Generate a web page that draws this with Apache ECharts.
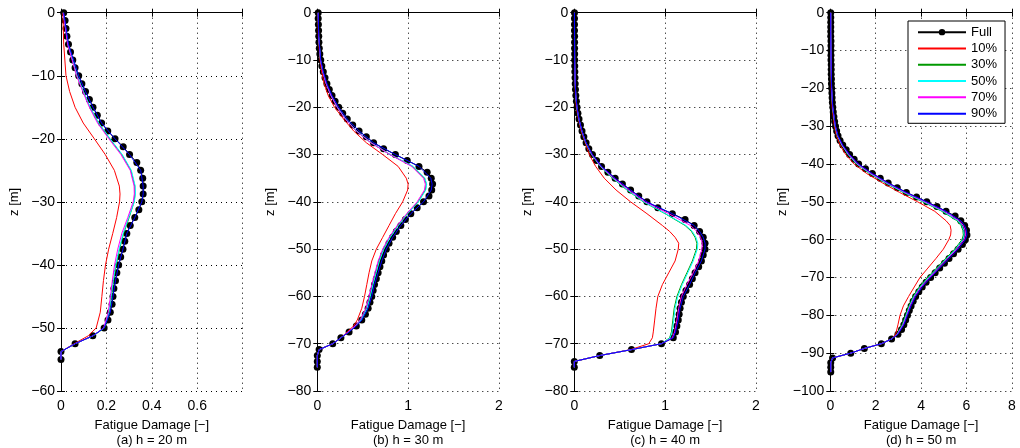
<!DOCTYPE html>
<html>
<head>
<meta charset="utf-8">
<title>Fatigue damage profiles</title>
<script src="https://cdn.jsdelivr.net/npm/echarts@6/dist/echarts.min.js"></script>
<style>
  html, body { margin: 0; padding: 0; background: #fff; }
  #chart { width: 1020px; height: 448px; }
</style>
</head>
<body>
<div id="chart"></div>
<script>
// ---- (a) h = 20 m ----
var zFullA = [0,-1.25,-2.5,-3.75,-5,-6.25,-7.5,-8.75,-10,-11.25,-12.5,-13.75,-15,-16.25,-17.5,-18.75,-20,-21.25,-22.5,-23.75,-25,-26.25,-27.5,-28.75,-30,-31.25,-32.5,-33.75,-35,-36.25,-37.5,-38.75,-40,-41.25,-42.5,-43.75,-45,-46.25,-47.5,-48.75,-50,-51.25,-52.5,-53.75,-55];
var fullA = [0.012,0.018,0.022,0.026,0.033,0.042,0.052,0.062,0.078,0.092,0.108,0.125,0.141,0.16,0.179,0.206,0.238,0.274,0.302,0.334,0.351,0.36,0.362,0.362,0.356,0.343,0.325,0.305,0.29,0.281,0.273,0.263,0.254,0.246,0.24,0.233,0.229,0.225,0.217,0.207,0.19,0.14,0.062,0,0];
var zLineA = [0,-5,-10,-12.5,-15,-17.5,-20,-22.5,-25,-27.5,-28.75,-30,-32.5,-35,-37.5,-40,-42.5,-45,-47.5,-50,-51.25,-52.5,-53.75,-55];
var p10A = [0.008,0.012,0.022,0.038,0.062,0.098,0.147,0.195,0.235,0.257,0.26,0.258,0.245,0.228,0.21,0.196,0.187,0.18,0.173,0.155,0.12,0.058,0,0];
var p30A = [0.01,0.03,0.07,0.098,0.128,0.165,0.215,0.268,0.308,0.325,0.326,0.322,0.3,0.276,0.258,0.243,0.232,0.223,0.213,0.192,0.142,0.062,0,0];
var p50A = [0.01,0.031,0.071,0.099,0.129,0.166,0.217,0.27,0.31,0.327,0.328,0.323,0.298,0.274,0.256,0.241,0.23,0.221,0.211,0.19,0.141,0.062,0,0];
var p70A = [0.01,0.029,0.069,0.096,0.125,0.161,0.211,0.264,0.305,0.322,0.323,0.318,0.294,0.268,0.25,0.236,0.226,0.218,0.208,0.188,0.14,0.062,0,0];
var p90A = [0.012,0.033,0.078,0.108,0.141,0.179,0.238,0.302,0.351,0.362,0.362,0.356,0.325,0.29,0.273,0.254,0.24,0.229,0.217,0.19,0.14,0.062,0,0];

// ---- (b) h = 30 m ----
var zFullB = [0,-1.25,-2.5,-3.75,-5,-6.25,-7.5,-8.75,-10,-11.25,-12.5,-13.75,-15,-16.25,-17.5,-18.75,-20,-21.25,-22.5,-23.75,-25,-26.25,-27.5,-28.75,-30,-31.25,-32.5,-33.75,-35,-36.25,-37.5,-38.75,-40,-41.25,-42.5,-43.75,-45,-46.25,-47.5,-48.75,-50,-51.25,-52.5,-53.75,-55,-56.25,-57.5,-58.75,-60,-61.25,-62.5,-63.75,-65,-66.25,-67.5,-68.75,-70,-71.25,-72.5,-73.75,-75];
var fullB = [0.01,0.01,0.012,0.014,0.016,0.018,0.022,0.028,0.038,0.05,0.066,0.085,0.106,0.132,0.162,0.196,0.236,0.28,0.33,0.39,0.46,0.54,0.62,0.73,0.86,0.99,1.12,1.21,1.255,1.27,1.26,1.23,1.17,1.1,1.03,0.97,0.92,0.87,0.83,0.79,0.76,0.73,0.71,0.69,0.67,0.65,0.63,0.615,0.6,0.58,0.56,0.53,0.49,0.43,0.35,0.26,0.17,0.02,0,0,0];
var zLineB = [0,-5,-10,-12.5,-15,-17.5,-20,-22.5,-25,-27.5,-30,-32.5,-35,-36.25,-37.5,-40,-42.5,-45,-47.5,-50,-52.5,-55,-57.5,-60,-62.5,-65,-66.25,-67.5,-68.75,-70,-71.25,-72.5,-75];
var p10B = [0.008,0.012,0.03,0.048,0.075,0.12,0.19,0.29,0.4,0.54,0.72,0.89,0.98,1.0,0.995,0.94,0.86,0.79,0.72,0.65,0.6,0.57,0.545,0.52,0.49,0.44,0.4,0.33,0.26,0.17,0.02,0,0];
var p30B = [0.01,0.015,0.035,0.06,0.098,0.15,0.22,0.31,0.43,0.59,0.8,1.05,1.18,1.2,1.19,1.11,0.99,0.89,0.8,0.73,0.68,0.645,0.61,0.58,0.545,0.48,0.42,0.345,0.26,0.17,0.02,0,0];
var p50B = [0.01,0.015,0.035,0.061,0.099,0.152,0.222,0.313,0.434,0.595,0.805,1.055,1.185,1.205,1.195,1.115,0.995,0.893,0.803,0.733,0.684,0.648,0.613,0.583,0.548,0.482,0.422,0.346,0.26,0.17,0.02,0,0];
var p70B = [0.01,0.015,0.035,0.06,0.097,0.149,0.219,0.309,0.428,0.59,0.8,1.04,1.17,1.19,1.18,1.1,0.985,0.88,0.79,0.72,0.67,0.635,0.6,0.57,0.535,0.47,0.415,0.34,0.26,0.17,0.02,0,0];
var p90B = [0.01,0.016,0.038,0.066,0.106,0.162,0.236,0.33,0.46,0.62,0.86,1.12,1.25,1.265,1.255,1.17,1.03,0.92,0.83,0.76,0.71,0.67,0.63,0.6,0.56,0.49,0.43,0.35,0.26,0.17,0.02,0,0];

// ---- (c) h = 40 m ----
var zFullC = [0,-1.25,-2.5,-3.75,-5,-6.25,-7.5,-8.75,-10,-11.25,-12.5,-13.75,-15,-16.25,-17.5,-18.75,-20,-21.25,-22.5,-23.75,-25,-26.25,-27.5,-28.75,-30,-31.25,-32.5,-33.75,-35,-36.25,-37.5,-38.75,-40,-41.25,-42.5,-43.75,-45,-46.25,-47.5,-48.75,-50,-51.25,-52.5,-53.75,-55,-56.25,-57.5,-58.75,-60,-61.25,-62.5,-63.75,-65,-66.25,-67.5,-68.75,-70,-71.25,-72.5,-73.75,-75];
var fullC = [0.002,0.002,0.002,0.002,0.003,0.003,0.003,0.004,0.004,0.005,0.006,0.008,0.01,0.013,0.017,0.023,0.03,0.04,0.052,0.068,0.085,0.105,0.13,0.16,0.2,0.245,0.3,0.37,0.45,0.53,0.62,0.71,0.8,0.92,1.08,1.22,1.32,1.38,1.42,1.44,1.44,1.42,1.4,1.37,1.33,1.3,1.27,1.23,1.2,1.18,1.165,1.155,1.145,1.13,1.115,1.09,0.96,0.63,0.28,0,0];
var zLineC = [0,-5,-10,-15,-17.5,-20,-22.5,-25,-27.5,-30,-32.5,-35,-37.5,-40,-42.5,-45,-46.25,-47.5,-48.75,-50,-52.5,-55,-57.5,-60,-62.5,-65,-67.5,-68.75,-70,-71.25,-72.5,-73.75,-75];
var p10C = [0.002,0.002,0.003,0.008,0.013,0.022,0.045,0.075,0.12,0.165,0.235,0.33,0.46,0.62,0.8,0.97,1.05,1.11,1.15,1.145,1.11,1.04,0.97,0.92,0.9,0.885,0.87,0.86,0.82,0.62,0.28,0,0];
var p30C = [0.002,0.003,0.004,0.01,0.016,0.028,0.05,0.082,0.125,0.19,0.285,0.42,0.58,0.76,1.0,1.22,1.29,1.33,1.35,1.345,1.3,1.24,1.18,1.13,1.1,1.085,1.07,1.05,0.96,0.63,0.28,0,0];
var p50C = [0.002,0.003,0.004,0.01,0.016,0.028,0.05,0.083,0.126,0.192,0.288,0.425,0.585,0.765,1.005,1.23,1.3,1.34,1.36,1.355,1.31,1.25,1.19,1.14,1.11,1.095,1.078,1.055,0.96,0.63,0.28,0,0];
var p70C = [0.002,0.002,0.004,0.01,0.017,0.029,0.051,0.084,0.128,0.195,0.292,0.435,0.6,0.78,1.04,1.28,1.35,1.39,1.41,1.405,1.37,1.31,1.24,1.18,1.15,1.13,1.105,1.08,0.96,0.63,0.28,0,0];
var p90C = [0.002,0.003,0.004,0.01,0.017,0.03,0.052,0.085,0.13,0.2,0.3,0.45,0.62,0.8,1.08,1.32,1.38,1.42,1.44,1.44,1.4,1.33,1.27,1.2,1.165,1.145,1.115,1.09,0.96,0.63,0.28,0,0];

// ---- (d) h = 50 m ----
var zFullD = [0,-1.25,-2.5,-3.75,-5,-6.25,-7.5,-8.75,-10,-11.25,-12.5,-13.75,-15,-16.25,-17.5,-18.75,-20,-21.25,-22.5,-23.75,-25,-26.25,-27.5,-28.75,-30,-31.25,-32.5,-33.75,-35,-36.25,-37.5,-38.75,-40,-41.25,-42.5,-43.75,-45,-46.25,-47.5,-48.75,-50,-51.25,-52.5,-53.75,-55,-56.25,-57.5,-58.75,-60,-61.25,-62.5,-63.75,-65,-66.25,-67.5,-68.75,-70,-71.25,-72.5,-73.75,-75,-76.25,-77.5,-78.75,-80,-81.25,-82.5,-83.75,-85,-86.25,-87.5,-88.75,-90,-91.25,-92.5,-93.75,-95];
var fullD = [0.02,0.02,0.02,0.02,0.02,0.02,0.03,0.03,0.03,0.03,0.03,0.04,0.04,0.04,0.05,0.05,0.06,0.07,0.08,0.09,0.11,0.13,0.16,0.19,0.23,0.28,0.34,0.43,0.55,0.7,0.85,1.05,1.25,1.55,1.85,2.2,2.55,2.95,3.35,3.8,4.25,4.7,5.1,5.5,5.75,5.92,6.0,6.02,5.95,5.82,5.63,5.43,5.23,5.03,4.82,4.62,4.42,4.22,4.05,3.9,3.76,3.65,3.56,3.48,3.4,3.32,3.24,3.14,2.98,2.7,2.25,1.5,0.9,0.1,0.02,0.02,0.02];
var zLineD = [0,-5,-10,-15,-20,-25,-30,-32.5,-35,-37.5,-40,-42.5,-45,-47.5,-50,-52.5,-55,-56.25,-57.5,-58.75,-60,-62.5,-65,-67.5,-70,-72.5,-75,-77.5,-80,-82.5,-85,-86.25,-87.5,-88.75,-90,-91.25,-92.5,-95];
var p10D = [0.02,0.02,0.02,0.03,0.04,0.08,0.18,0.27,0.43,0.68,1.05,1.6,2.3,3.05,3.85,4.6,5.1,5.28,5.32,5.3,5.22,4.98,4.65,4.3,3.95,3.7,3.45,3.22,3.07,2.98,2.88,2.7,2.25,1.5,0.9,0.1,0.02,0.02];
var p30D = [0.02,0.02,0.03,0.04,0.055,0.1,0.21,0.31,0.5,0.78,1.15,1.72,2.42,3.2,4.08,4.92,5.58,5.76,5.84,5.86,5.8,5.48,5.08,4.68,4.28,3.92,3.65,3.46,3.31,3.16,2.94,2.7,2.25,1.5,0.9,0.1,0.02,0.02];
var p50D = [0.02,0.02,0.03,0.04,0.056,0.102,0.214,0.316,0.51,0.79,1.17,1.75,2.45,3.24,4.12,4.96,5.62,5.8,5.88,5.9,5.84,5.52,5.12,4.72,4.32,3.96,3.68,3.49,3.34,3.19,2.95,2.7,2.25,1.5,0.9,0.1,0.02,0.02];
var p70D = [0.02,0.02,0.03,0.04,0.058,0.105,0.22,0.325,0.525,0.815,1.2,1.79,2.5,3.29,4.18,5.03,5.68,5.86,5.94,5.96,5.89,5.57,5.17,4.77,4.37,4.0,3.72,3.52,3.37,3.21,2.96,2.7,2.25,1.5,0.9,0.1,0.02,0.02];
var p90D = [0.02,0.02,0.03,0.04,0.06,0.11,0.23,0.34,0.55,0.85,1.25,1.85,2.55,3.35,4.25,5.1,5.75,5.92,6.0,6.02,5.95,5.63,5.23,4.82,4.42,4.05,3.76,3.56,3.4,3.24,2.98,2.7,2.25,1.5,0.9,0.1,0.02,0.02];

var legendNames = ['Full', '10%', '30%', '50%', '70%', '90%'];
var lineColors = ['#ff0000', '#009900', '#00ffff', '#ff00ff', '#0000ff'];

var panels = [
    {z: zFullA, full: fullA, zl: zLineA, lines: [p10A, p30A, p50A, p70A, p90A], xMax: 0.8, xStep: 0.2, yMin: -60, hideMax: true, label: '(a) h = 20 m', left: 61},
    {z: zFullB, full: fullB, zl: zLineB, lines: [p10B, p30B, p50B, p70B, p90B], xMax: 2, xStep: 1, yMin: -80, hideMax: false, label: '(b) h = 30 m', left: 317.3},
    {z: zFullC, full: fullC, zl: zLineC, lines: [p10C, p30C, p50C, p70C, p90C], xMax: 2, xStep: 1, yMin: -80, hideMax: false, label: '(c) h = 40 m', left: 574.3},
    {z: zFullD, full: fullD, zl: zLineD, lines: [p10D, p30D, p50D, p70D, p90D], xMax: 8, xStep: 2, yMin: -100, hideMax: false, label: '(d) h = 50 m', left: 830.3}
];

var font = '"Liberation Sans", Arial, Helvetica, sans-serif';

function zip(xs, zs) {
    var out = [];
    for (var i = 0; i < xs.length; i++) {
        out.push([xs[i], zs[i]]);
    }
    return out;
}

var grids = [], xAxes = [], yAxes = [], series = [];

panels.forEach(function (p, k) {
    grids.push({left: p.left, top: 12.7, width: 181.6, height: 378.3, outerBoundsMode: 'none'});

    var frame = {lineStyle: {color: '#000', width: 1}};
    var ticks = {inside: true, length: 4, lineStyle: {color: '#000', width: 1}};
    var dots = {show: true, lineStyle: {color: '#000', width: 1, type: [1, 4]}};

    // bottom / top x axes
    xAxes.push({
        gridIndex: k, type: 'value', position: 'bottom', min: 0, max: p.xMax, interval: p.xStep,
        axisLine: frame, axisTick: ticks, splitLine: dots,
        axisLabel: {
            color: '#000', fontFamily: font, fontSize: 14, margin: 8, showMaxLabel: true,
            formatter: function (v) {
                if (p.hideMax && Math.abs(v - p.xMax) < 1e-9) return '';
                return String(Math.round(v * 10) / 10);
            }
        },
        name: 'Fatigue Damage [\u2212]\n' + p.label, nameLocation: 'middle', nameGap: 26,
        nameTextStyle: {color: '#000', fontFamily: font, fontSize: 13, lineHeight: 15}
    });
    xAxes.push({
        gridIndex: k, type: 'value', position: 'top', min: 0, max: p.xMax, interval: p.xStep,
        axisLine: frame, axisTick: ticks, axisLabel: {show: false}, splitLine: {show: false}
    });

    // left / right y axes
    yAxes.push({
        gridIndex: k, type: 'value', position: 'left', min: p.yMin, max: 0, interval: 10,
        axisLine: frame, axisTick: ticks, splitLine: dots,
        axisLabel: {
            color: '#000', fontFamily: font, fontSize: 14, margin: 6,
            formatter: function (v) { return v < 0 ? '\u2212' + (-v) : String(v); }
        },
        name: 'z [m]', nameLocation: 'middle', nameGap: 40,
        nameTextStyle: {color: '#000', fontFamily: font, fontSize: 13}
    });
    yAxes.push({
        gridIndex: k, type: 'value', position: 'right', min: p.yMin, max: 0, interval: 10,
        axisLine: frame, axisTick: ticks, axisLabel: {show: false}, splitLine: {show: false}
    });

    series.push({
        name: 'Full', type: 'line', xAxisIndex: 2 * k, yAxisIndex: 2 * k,
        data: zip(p.full, p.z),
        symbol: 'circle', symbolSize: 7, showSymbol: true,
        itemStyle: {color: '#000'}, lineStyle: {color: '#000', width: 1},
        z: 2
    });
    p.lines.forEach(function (vals, j) {
        series.push({
            name: legendNames[j + 1], type: 'line', xAxisIndex: 2 * k, yAxisIndex: 2 * k,
            data: zip(vals, p.zl),
            symbol: 'none',
            itemStyle: {color: lineColors[j]}, lineStyle: {color: lineColors[j], width: 1},
            z: 3 + j
        });
    });
});

// legend entries: only "Full" carries a marker
var legendData = legendNames.map(function (n, i) {
    return i === 0 ? {name: n} : {name: n, itemStyle: {opacity: 0}};
});

var chart = echarts.init(document.getElementById('chart'), null, {renderer: 'canvas'});
chart.setOption({
    animation: false,
    backgroundColor: '#fff',
    grid: grids,
    xAxis: xAxes,
    yAxis: yAxes,
    legend: {
        data: legendData,
        orient: 'vertical', left: 908, top: 21,
        padding: [3, 8, 1.5, 9], itemGap: 0, itemWidth: 48, itemHeight: 8,
        backgroundColor: '#fff', borderColor: '#000', borderWidth: 1,
        textStyle: {color: '#000', fontFamily: font, fontSize: 13, lineHeight: 16.3},
        selectedMode: false
    },
    series: series
});
</script>
</body>
</html>
